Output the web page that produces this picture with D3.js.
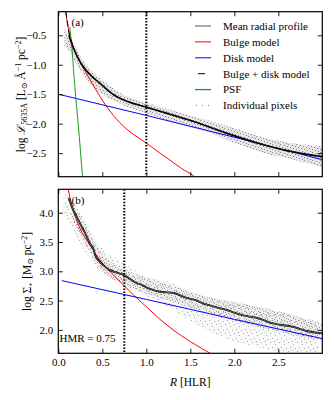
<!DOCTYPE html>
<html>
<head>
<meta charset="utf-8">
<script src="https://cdn.jsdelivr.net/npm/d3@7"></script>
<style>
  body { margin: 0; background: #fff; }
  svg text { font-family: "Liberation Serif", "Times New Roman", "DejaVu Serif", serif; fill: #000; }
</style>
</head>
<body>
<div id="chart"></div>
<script>
// values: [R (HLR), log value]
const xTicks = [0.0, 0.5, 1.0, 1.5, 2.0, 2.5];
const yTicksA = [-2.5, -2.0, -1.5, -1.0, -0.5];
const yTicksB = [2.0, 2.5, 3.0, 3.5, 4.0];

// panel (a): luminosity density
const meanA = [[0.12,-0.50],[0.15,-0.63],[0.19,-0.78],[0.24,-0.93],[0.284,-1.035],[0.35,-1.15],
  [0.42,-1.25],[0.474,-1.316],[0.56,-1.43],[0.66,-1.54],[0.8,-1.63],[1.0,-1.72],[1.156,-1.79],
  [1.27,-1.84],[1.53,-1.96],[1.91,-2.16],[2.29,-2.34],[2.67,-2.48],[3.0,-2.56]];
const modelA = [[0.085,-0.10],[0.11,-0.35],[0.133,-0.53],[0.16,-0.65],[0.19,-0.78],[0.24,-0.93],
  [0.284,-1.035],[0.35,-1.15],[0.42,-1.25],[0.474,-1.316],[0.56,-1.43],[0.66,-1.54],[0.8,-1.63],
  [1.0,-1.72],[1.156,-1.79],[1.27,-1.84],[1.53,-1.96],[1.91,-2.16],[2.29,-2.34],[2.67,-2.48],[3.0,-2.56]];
const bulgeA = [[0.085,-0.10],[0.11,-0.35],[0.133,-0.53],[0.16,-0.66],[0.2,-0.80],[0.25,-0.96],
  [0.34,-1.20],[0.43,-1.43],[0.53,-1.67],[0.66,-1.92],[0.8,-2.12],[1.0,-2.33],[1.156,-2.50],
  [1.27,-2.62],[1.4,-2.76],[1.53,-2.88],[1.56,-2.92]];
const diskA = [[0.0,-1.50],[1.0,-1.86],[2.0,-2.23],[3.0,-2.61]];
const psfA = [[0.13,-0.36],[0.155,-0.72],[0.178,-1.18],[0.2,-1.58],[0.227,-2.02],[0.276,-2.92]];
// envelope of the individual pixels: [R, low, high]
const pixelsA = [[0.07,-0.70,-0.40],[0.12,-0.76,-0.48],[0.18,-0.92,-0.66],[0.25,-1.10,-0.86],
  [0.35,-1.30,-1.06],[0.5,-1.50,-1.26],[0.7,-1.66,-1.48],[1.0,-1.82,-1.64],[1.3,-1.97,-1.78],
  [1.6,-2.10,-1.90],[2.0,-2.32,-2.08],[2.3,-2.48,-2.22],[2.7,-2.62,-2.34],[3.0,-2.74,-2.38]];
const hlrA = 1.0;

// panel (b): stellar mass surface density
const meanB = [[0.12,4.25],[0.16,4.08],[0.21,3.93],[0.26,3.78],[0.30,3.67],[0.36,3.47],[0.40,3.38],
  [0.417,3.28],[0.474,3.16],[0.53,3.08],[0.588,3.02],[0.66,2.98],[0.74,2.94],[0.89,2.80],[0.93,2.78],
  [1.04,2.70],[1.156,2.65],[1.31,2.63],[1.45,2.55],[1.53,2.52],[1.69,2.43],[1.91,2.34],[2.07,2.26],
  [2.29,2.19],[2.44,2.11],[2.67,2.05],[2.82,1.98],[3.0,1.94]];
const bulgeB = [[0.114,4.39],[0.15,4.15],[0.178,4.0],[0.247,3.73],[0.36,3.45],[0.474,3.19],
  [0.664,2.88],[0.852,2.60],[1.04,2.34],[1.156,2.18],[1.27,2.04],[1.5,1.80],[1.75,1.58]];
const diskB = [[0.04,2.84],[1.0,2.52],[2.0,2.18],[3.0,1.85]];
// outer (sparse) and inner (dense) envelopes of the pixel cloud
const pixelsB = [[0.06,3.95,4.32],[0.12,3.85,4.30],[0.2,3.62,4.12],[0.3,3.35,3.88],[0.4,3.12,3.62],
  [0.5,2.98,3.40],[0.65,2.82,3.22],[0.8,2.70,3.08],[1.0,2.58,2.92],[1.3,2.35,2.80],[1.5,2.15,2.66],
  [1.9,1.85,2.50],[2.25,1.72,2.40],[2.6,1.62,2.27],[2.96,1.62,2.10]];
const pixelsCoreB = [[0.15,3.90,4.20],[0.3,3.50,3.80],[0.5,3.00,3.30],[0.8,2.75,3.00],[1.0,2.62,2.88],
  [1.3,2.48,2.75],[1.6,2.33,2.60],[2.0,2.15,2.47],[2.4,2.00,2.35],[2.8,1.87,2.20],[3.0,1.82,2.12]];
const hlrB = 0.75;

const legendLabels = ["Mean radial profile", "Bulge model", "Disk model",
  "Bulge + disk model", "PSF", "Individual pixels"];

const width = 334;
const height = 400;
const left = 58.3, right = 322.3;
const red = "#ff0000", blue = "#0000ff", green = "#1a9a1a";

const svg = d3.select("#chart").append("svg")
  .attr("width", width)
  .attr("height", height)
  .attr("viewBox", [0, 0, width, height]);

const defs = svg.append("defs");

// dot texture for the pixel clouds
function makeDots(id, size, dots, color) {
  const p = defs.append("pattern")
    .attr("id", id)
    .attr("patternUnits", "userSpaceOnUse")
    .attr("width", size).attr("height", size);
  dots.forEach(([dx, dy]) => p.append("rect")
    .attr("x", dx).attr("y", dy).attr("width", 1).attr("height", 1)
    .attr("fill", color));
}
makeDots("dotsA", 8, [[0,0],[4,1],[7,2],[2,3],[5,4],[0,5],[3,6],[6,7]], "#8a8a8a");
makeDots("dotsB", 9, [[0,0],[5,2],[2,5],[7,6],[4,8]], "#a8a8a8");
makeDots("dotsCore", 7, [[0,0],[3,1],[6,3],[1,4],[4,5],[2,6]], "#999999");

const x = d3.scaleLinear([0, 3], [left, right]);

function panel(opts) {
  const { top, bottom, yDomain, yTicks, pad, name } = opts;
  const y = d3.scaleLinear(yDomain, [bottom, top]);

  defs.append("clipPath").attr("id", "clip" + name)
    .append("rect")
    .attr("x", left).attr("y", top)
    .attr("width", right - left).attr("height", bottom - top);

  const g = svg.append("g").attr("clip-path", `url(#clip${name})`);

  const area = d3.area()
    .curve(d3.curveMonotoneX)
    .x(d => x(d[0]))
    .y0(d => y(d[1]))
    .y1(d => y(d[2]));

  opts.clouds.forEach(c => {
    g.append("path").attr("d", area(c.data))
      .attr("fill", "#bdbdbd").attr("fill-opacity", c.fill);
    g.append("path").attr("d", area(c.data))
      .attr("fill", `url(#${c.dots})`);
  });

  const line = d3.line()
    .curve(d3.curveMonotoneX)
    .x(d => x(d[0]))
    .y(d => y(d[1]));

  g.append("path").attr("d", line(opts.bulge))
    .attr("fill", "none").attr("stroke", red).attr("stroke-width", 1);
  g.append("path").attr("d", line(opts.disk))
    .attr("fill", "none").attr("stroke", blue).attr("stroke-width", 1);
  if (opts.psf) {
    g.append("path").attr("d", line(opts.psf))
      .attr("fill", "none").attr("stroke", green).attr("stroke-width", 1);
  }
  if (opts.model) {
    g.append("path").attr("d", line(opts.mean))
      .attr("fill", "none").attr("stroke", "#111").attr("stroke-width", 1.7);
    g.append("path").attr("d", line(opts.model))
      .attr("fill", "none").attr("stroke", "#000").attr("stroke-width", 1)
      .attr("stroke-dasharray", "6,3");
  } else {
    g.append("path").attr("d", line(opts.mean))
      .attr("fill", "none").attr("stroke", "#000").attr("stroke-width", 1.9);
    g.append("path").attr("d", line(opts.mean))
      .attr("fill", "none").attr("stroke", "#a0a0a0").attr("stroke-width", 0.6);
  }

  // half-mass / half-light radius marker
  g.append("line")
    .attr("x1", x(opts.hlr)).attr("x2", x(opts.hlr))
    .attr("y1", top).attr("y2", bottom)
    .attr("stroke", "#000").attr("stroke-width", 2)
    .attr("stroke-dasharray", "1.5,1.6");

  // axes with inward ticks on all four sides
  const tk = 4.5;
  svg.append("g")
    .attr("transform", `translate(0,${bottom})`)
    .call(d3.axisBottom(x).tickValues(xTicks).tickSize(-tk).tickPadding(5)
      .tickFormat(opts.showX ? d3.format(".1f") : ""))
    .call(a => a.select(".domain").remove());
  svg.append("g")
    .attr("transform", `translate(0,${top})`)
    .call(d3.axisTop(x).tickValues(xTicks).tickSize(-tk).tickFormat(""))
    .call(a => a.select(".domain").remove());
  svg.append("g")
    .attr("transform", `translate(${left},0)`)
    .call(d3.axisLeft(y).tickValues(yTicks).tickSize(-tk).tickPadding(pad)
      .tickFormat(d3.format(".1f")))
    .call(a => a.select(".domain").remove());
  svg.append("g")
    .attr("transform", `translate(${right},0)`)
    .call(d3.axisRight(y).tickValues(yTicks).tickSize(-tk).tickFormat(""))
    .call(a => a.select(".domain").remove());

  svg.selectAll(".tick line").attr("stroke", "#000").attr("stroke-width", 0.9);
  svg.selectAll(".tick text")
    .attr("font-size", 11).attr("fill", "#000");

  svg.append("rect")
    .attr("x", left).attr("y", top)
    .attr("width", right - left).attr("height", bottom - top)
    .attr("fill", "none").attr("stroke", "#000").attr("stroke-width", 1.2);

  svg.append("text")
    .attr("x", 71.5).attr("y", top + 14.5)
    .attr("font-size", 11)
    .text(`(${name})`);

  return y;
}

panel({
  name: "a", top: 11.7, bottom: 176.7, yDomain: [-2.9, -0.1], yTicks: yTicksA, pad: 12,
  clouds: [{ data: pixelsA, dots: "dotsA", fill: 0.4 }],
  mean: meanA, model: modelA, bulge: bulgeA, disk: diskA, psf: psfA, hlr: hlrA, showX: false
});

panel({
  name: "b", top: 189.3, bottom: 353.3, yDomain: [1.6, 4.4], yTicks: yTicksB, pad: 5,
  clouds: [{ data: pixelsB, dots: "dotsB", fill: 0.1 }, { data: pixelsCoreB, dots: "dotsCore", fill: 0.2 }],
  mean: meanB, bulge: bulgeB, disk: diskB, hlr: hlrB, showX: true
});

// y label (a)
const la = svg.append("text")
  .attr("transform", "translate(24.5,94.5) rotate(-90)")
  .attr("text-anchor", "middle")
  .attr("font-size", 11.5);
la.append("tspan").text("log ");
la.append("tspan").attr("font-family", "DejaVu Serif").attr("font-style", "italic").text("ℒ");
la.append("tspan").attr("font-size", 8).attr("dy", 2.5).text("5635Å");
la.append("tspan").attr("dy", -2.5).text(" [L");
la.append("tspan").attr("font-size", 8).attr("dy", 2.5).text("⊙");
la.append("tspan").attr("dy", -2.5).text(" Å");
la.append("tspan").attr("font-size", 8).attr("dy", -4).text("−1");
la.append("tspan").attr("dy", 4).text(" pc");
la.append("tspan").attr("font-size", 8).attr("dy", -4).text("−2");
la.append("tspan").attr("dy", 4).text("]");

// y label (b)
const lb = svg.append("text")
  .attr("transform", "translate(30.5,271.5) rotate(-90)")
  .attr("text-anchor", "middle")
  .attr("font-size", 11.5);
lb.append("tspan").text("log Σ");
lb.append("tspan").attr("font-size", 8).attr("dy", 2.5).text("⋆");
lb.append("tspan").attr("dy", -2.5).text(" [M");
lb.append("tspan").attr("font-size", 8).attr("dy", 2.5).text("⊙");
lb.append("tspan").attr("dy", -2.5).text(" pc");
lb.append("tspan").attr("font-size", 8).attr("dy", -4).text("−2");
lb.append("tspan").attr("dy", 4).text("]");

// x label
const lx = svg.append("text")
  .attr("x", (left + right) / 2).attr("y", 385.5)
  .attr("text-anchor", "middle")
  .attr("font-size", 11.5);
lx.append("tspan").attr("font-style", "italic").text("R");
lx.append("tspan").text(" [HLR]");

svg.append("text")
  .attr("x", 59.5).attr("y", 342)
  .attr("font-size", 11)
  .text("HMR = 0.75");

// legend, no frame
const legend = svg.append("g").attr("transform", "translate(195,26)");
const kinds = [
  { stroke: "#7f7f7f", w: 1.3 },
  { stroke: red, w: 1 },
  { stroke: blue, w: 1 },
  { stroke: "#000", w: 1, dash: "0,3,7,8" },
  { stroke: green, w: 1.3 },
  { dots: true }
];
legendLabels.forEach((label, i) => {
  const row = legend.append("g").attr("transform", `translate(0,${i * 15.9})`);
  const k = kinds[i];
  if (k.dots) {
    [1, 7, 13].forEach(dx => row.append("rect")
      .attr("x", dx).attr("y", -0.5).attr("width", 1).attr("height", 1).attr("fill", "#777"));
  } else {
    row.append("line")
      .attr("x1", 0).attr("x2", 16)
      .attr("stroke", k.stroke).attr("stroke-width", k.w)
      .attr("stroke-dasharray", k.dash || null);
  }
  row.append("text")
    .attr("x", 28).attr("y", 3.8)
    .attr("font-size", 11)
    .text(label);
});
</script>
</body>
</html>
